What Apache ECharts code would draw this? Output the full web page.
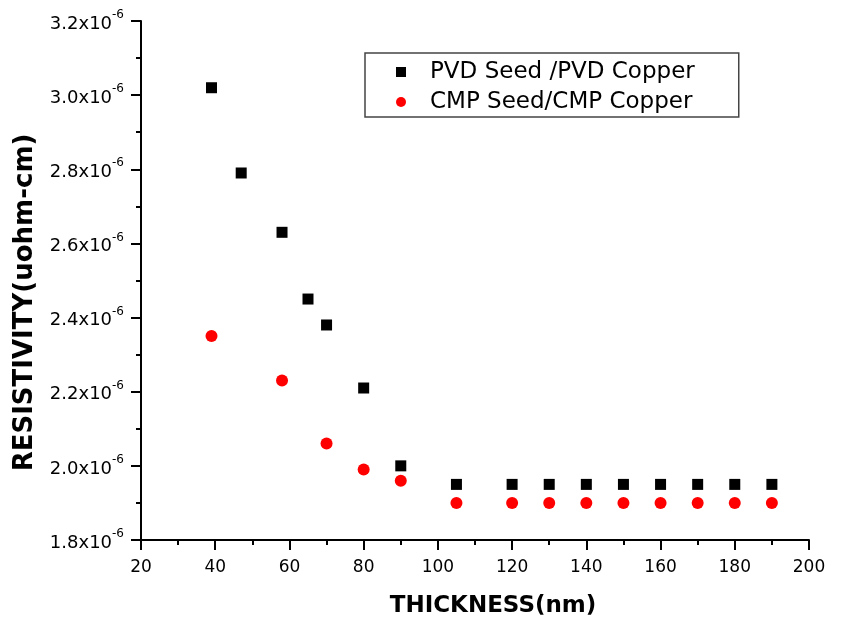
<!DOCTYPE html>
<html>
<head>
<meta charset="utf-8">
<script src="https://cdn.jsdelivr.net/npm/echarts@6/dist/echarts.min.js"></script>
<style>
html,body{margin:0;padding:0;background:#fff;}
#chart{width:841px;height:623px;}
</style>
</head>
<body>
<div id="chart"></div>
<script>
// Thickness (nm)
var pvdThickness = [39, 47, 58, 65, 70, 80, 90, 105, 120, 130, 140, 150, 160, 170, 180, 190];
// Resistivity in units of 1e-6
var pvdResistivity = [3.02, 2.79, 2.63, 2.45, 2.38, 2.21, 2.00, 1.95, 1.95, 1.95, 1.95, 1.95, 1.95, 1.95, 1.95, 1.95];
var cmpThickness = [39, 58, 70, 80, 90, 105, 120, 130, 140, 150, 160, 170, 180, 190];
var cmpResistivity = [2.35, 2.23, 2.06, 1.99, 1.96, 1.90, 1.90, 1.90, 1.90, 1.90, 1.90, 1.90, 1.90, 1.90];
var seriesNames = ['PVD Seed /PVD Copper', 'CMP Seed/CMP Copper'];
var xAxisTitle = 'THICKNESS(nm)';
var yAxisTitle = 'RESISTIVITY(uohm-cm)';
var yExponent = '-6';

function pairs(xs, ys) { return xs.map(function (x, i) { return [x, ys[i]]; }); }

var chart = echarts.init(document.getElementById('chart'), null, {renderer: 'canvas'});
var font = 'DejaVu Sans';
chart.setOption({
  animation: false,
  backgroundColor: '#ffffff',
  grid: {left: 141, right: 32, top: 21, bottom: 83, containLabel: false},
  legend: {
    orient: 'vertical',
    left: 365, top: 53,
    padding: [6, 44, 2, 31],
    itemGap: 4,
    itemWidth: 10, itemHeight: 10,
    borderColor: '#444', borderWidth: 1.5,
    data: seriesNames,
    textStyle: {fontFamily: font, fontSize: 23, color: '#000', lineHeight: 26, padding: [0, 0, 0, 19]}
  },
  xAxis: {
    type: 'value', min: 20, max: 200, interval: 20,
    name: xAxisTitle, nameLocation: 'middle', nameGap: 55,
    nameTextStyle: {fontFamily: font, fontSize: 23, fontWeight: 'bold', color: '#000', padding: [0, 0, 0, 36]},
    axisLine: {show: true, onZero: false, lineStyle: {color: '#000', width: 2}},
    axisTick: {show: true, inside: false, length: 10, lineStyle: {color: '#000', width: 2}},
    minorTick: {show: true, splitNumber: 2, length: 5, lineStyle: {color: '#000', width: 2}},
    axisLabel: {fontFamily: font, fontSize: 17, color: '#000', margin: 19},
    splitLine: {show: false}
  },
  yAxis: {
    type: 'value', min: 1.8, max: 3.2, interval: 0.2,
    name: yAxisTitle, nameLocation: 'middle', nameGap: 103,
    nameTextStyle: {fontFamily: font, fontSize: 26, fontWeight: 'bold', color: '#000', padding: [0, 44, 0, 0]},
    axisLine: {show: true, onZero: false, lineStyle: {color: '#000', width: 2}},
    axisTick: {show: true, inside: false, length: 10, lineStyle: {color: '#000', width: 2}},
    minorTick: {show: true, splitNumber: 2, length: 5, lineStyle: {color: '#000', width: 2}},
    axisLabel: {
      margin: 17,
      formatter: function (v) { return '{m|' + v.toFixed(1) + 'x10}{s|' + yExponent + '}'; },
      rich: {
        m: {fontFamily: font, fontSize: 18, color: '#000', lineHeight: 24, verticalAlign: 'bottom'},
        s: {fontFamily: font, fontSize: 12, color: '#000', lineHeight: 24, verticalAlign: 'top'}
      }
    },
    splitLine: {show: false}
  },
  series: [
    {
      name: seriesNames[0], type: 'scatter', symbol: 'rect', symbolSize: 11,
      itemStyle: {color: '#000000', opacity: 1},
      data: pairs(pvdThickness, pvdResistivity)
    },
    {
      name: seriesNames[1], type: 'scatter', symbol: 'circle', symbolSize: 12,
      itemStyle: {color: '#ff0000', opacity: 1},
      data: pairs(cmpThickness, cmpResistivity)
    }
  ]
});
</script>
</body>
</html>
